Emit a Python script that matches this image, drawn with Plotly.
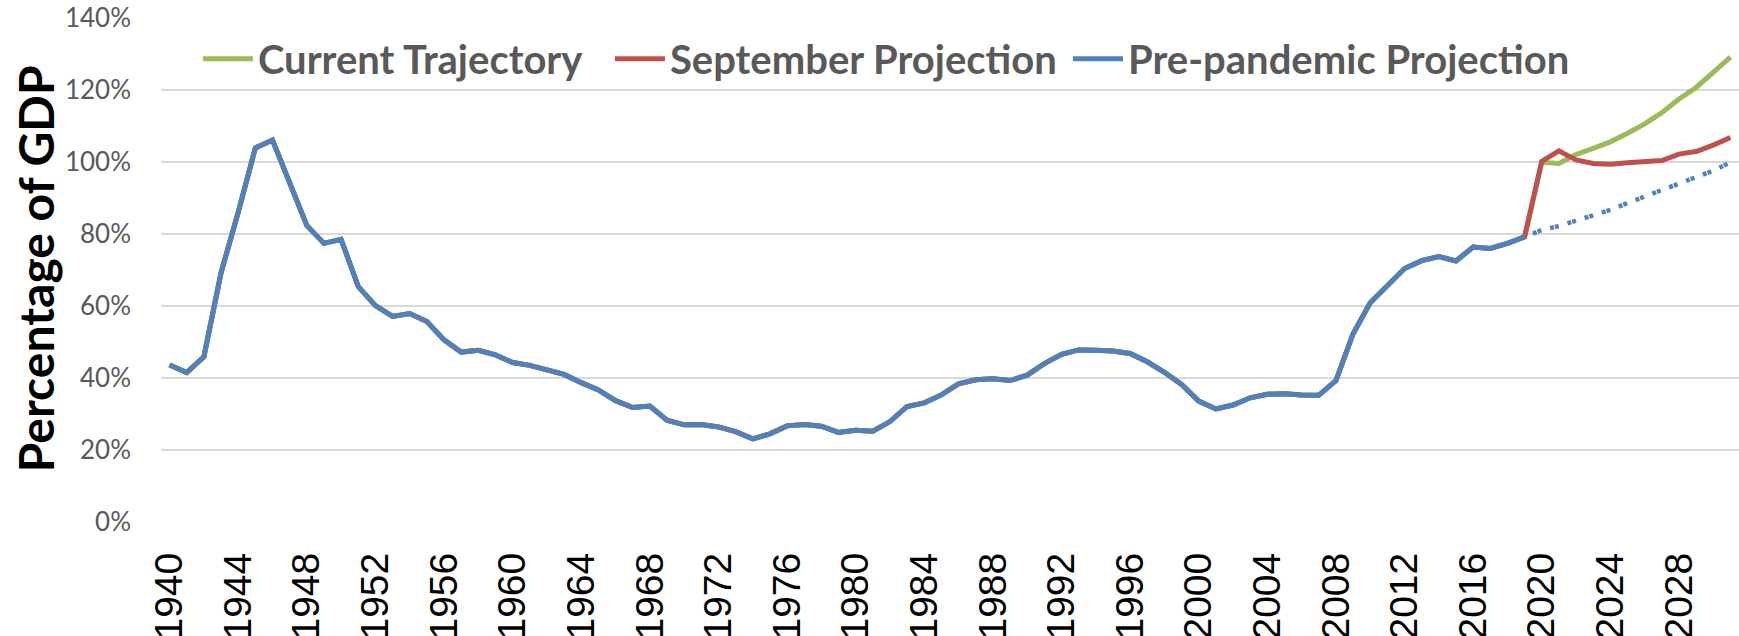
"""
Federal debt held by the public, % of GDP: history plus three projections
"""
import plotly.graph_objects as go

# 历史数据 1940-2019
hist_years = list(range(1940, 2020))
hist_debt = [
    43.6, 41.5, 45.9, 69.2, 86.0, 103.9, 106.1, 93.9, 82.4, 77.4,
    78.5, 65.4, 60.1, 57.1, 57.9, 55.7, 50.6, 47.2, 47.7, 46.4,
    44.3, 43.5, 42.3, 41.0, 38.7, 36.7, 33.7, 31.8, 32.2, 28.3,
    27.0, 27.1, 26.4, 25.1, 23.1, 24.5, 26.7, 27.1, 26.6, 24.9,
    25.5, 25.2, 27.9, 32.1, 33.1, 35.3, 38.4, 39.5, 39.8, 39.3,
    40.8, 44.0, 46.6, 47.8, 47.7, 47.5, 46.8, 44.5, 41.6, 38.2,
    33.6, 31.4, 32.5, 34.5, 35.5, 35.6, 35.3, 35.2, 39.3, 52.3,
    60.9, 65.9, 70.4, 72.6, 73.7, 72.5, 76.4, 76.0, 77.4, 79.2,
]

# 预测 2020-2031
proj_years = list(range(2020, 2032))
current_traj = [99.9, 99.6, 102.1, 103.8, 105.6, 108.0, 110.6, 113.7, 117.5, 120.7, 124.8, 129.1]
september_proj = [100.2, 103.1, 100.6, 99.6, 99.4, 99.8, 100.1, 100.4, 102.2, 102.9, 104.7, 106.8]
prepandemic_proj = [81.1, 82.2, 83.7, 85.3, 86.7, 88.6, 90.4, 92.0, 93.9, 95.6, 97.6, 99.9]

GREEN = '#9BBB59'
RED = '#C0504D'
BLUE = '#4F81BD'
GREY_TEXT = '#595959'

fig = go.Figure()

fig.add_trace(go.Scatter(
    x=hist_years + proj_years,
    y=hist_debt + current_traj,
    mode='lines',
    name='Current Trajectory',
    legend='legend',
    line=dict(color=GREEN, width=5)
))

fig.add_trace(go.Scatter(
    x=hist_years + proj_years,
    y=hist_debt + september_proj,
    mode='lines',
    name='September Projection',
    legend='legend2',
    line=dict(color=RED, width=5)
))

# 疫情前预测:历史实线 + 预测点线
fig.add_trace(go.Scatter(
    x=hist_years,
    y=hist_debt,
    mode='lines',
    name='Pre-pandemic Projection',
    legend='legend3',
    line=dict(color=BLUE, width=5)
))

fig.add_trace(go.Scatter(
    x=hist_years[-1:] + proj_years,
    y=hist_debt[-1:] + prepandemic_proj,
    mode='lines',
    showlegend=False,
    line=dict(color=BLUE, width=4.5, dash='0px,9px,4px,1px,4px,0px')
))


def legend_at(x):
    """图例位置(每条线单独一个图例)"""
    return dict(
        orientation='h',
        x=x,
        xanchor='left',
        y=0.919,
        yanchor='middle',
        bgcolor='rgba(0,0,0,0)',
        font=dict(family='Lato', size=40, color=GREY_TEXT, weight='bold'),
        itemwidth=50,
    )


# 纵轴标题
fig.add_annotation(
    text='Percentage of GDP',
    xref='paper', yref='paper',
    x=-0.079, y=0.502,
    xanchor='center', yanchor='middle',
    textangle=-90,
    showarrow=False,
    font=dict(family='Lato', size=48, color='black', weight='bold'),
)

fig.update_layout(
    width=1739,
    height=636,
    margin=dict(l=161, r=0, t=18, b=114, pad=0),
    plot_bgcolor='white',
    paper_bgcolor='white',
    showlegend=True,
    legend=legend_at(0.0234),
    legend2=legend_at(0.2845),
    legend3=legend_at(0.5748),
    xaxis=dict(
        range=[1939.5, 2031.5],
        tickmode='linear',
        tick0=1940,
        dtick=4,
        tickangle=-90,
        showgrid=False,
        zeroline=False,
        showline=False,
        ticks='',
        ticklabelstandoff=22,
        tickfont=dict(family='Liberation Sans', size=39, color='black'),
        automargin=False,
    ),
    yaxis=dict(
        range=[0, 140],
        tickmode='linear',
        tick0=0,
        dtick=20,
        ticksuffix='%',
        showgrid=True,
        gridcolor='#D9D9D9',
        gridwidth=1.5,
        zeroline=False,
        showline=False,
        ticks='',
        ticklabelstandoff=29,
        tickfont=dict(family='Lato', size=26, color=GREY_TEXT),
        automargin=False,
    ),
)

fig.write_html(
    "out.html",
    config={'displayModeBar': False},
    post_script="document.body.style.margin='0';",
)
